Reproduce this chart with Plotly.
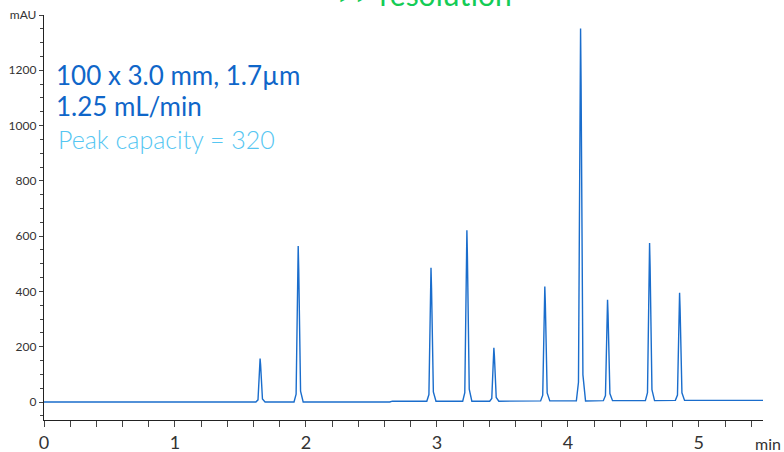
import plotly.graph_objects as go

# Peak table
peak_times = [1.650, 1.941, 2.955, 3.229, 3.435, 3.824, 4.097, 4.303, 4.624, 4.853]
peak_heights = [157, 564, 483, 618, 193, 414, 1347, 365, 570, 389]
peak_base = [0, 0, 3, 3, 3, 4, 4, 5, 5, 6]

# Peak profile (offset in min, fraction of height)
profile_offsets = [-0.032, -0.016, -0.009, -0.004, 0.0, 0.004, 0.009, 0.018, 0.038]
profile_fracs = [0.0, 0.05, 0.42, 0.85, 1.0, 0.85, 0.45, 0.07, 0.0]

# Baseline points between peaks
baseline_t = [0.0, 1.0, 2.64, 2.66, 5.0, 5.49]
baseline_v = [0, 1, 0, 3, 6, 6]

pts = list(zip(baseline_t, baseline_v))
for t, h, b in zip(peak_times, peak_heights, peak_base):
    for o, f in zip(profile_offsets, profile_fracs):
        pts.append((t + o, b + h * f))
pts.sort(key=lambda p: p[0])
xs = [p[0] for p in pts]
ys = [p[1] for p in pts]

y_tickvals = [0, 200, 400, 600, 800, 1000, 1200, 1400]
y_ticktext = ["0", "200", "400", "600", "800", "1000", "1200", "mAU"]
x_tickvals = [0, 1, 2, 3, 4, 5]
x_ticktext = ["0", "1", "2", "3", "4", "5"]

fig = go.Figure()
fig.add_trace(go.Scatter(x=xs, y=ys, mode="lines",
                         line=dict(color="#1a6dcc", width=1.4),
                         hoverinfo="skip", showlegend=False))

FONT = "Lato"
fig.update_layout(
    width=784, height=452,
    margin=dict(l=44, r=21, t=15, b=32, autoexpand=False),
    paper_bgcolor="white", plot_bgcolor="white",
    font=dict(family=FONT, color="#333333"),
    xaxis=dict(range=[0, 5.49], tickvals=x_tickvals, ticktext=x_ticktext,
               showgrid=False, zeroline=False, showline=True,
               linecolor="#222222", linewidth=1.3, automargin=False,
               ticks="outside", ticklen=6, tickcolor="#444444", tickwidth=1.2,
               tickfont=dict(size=18, color="#333333", family=FONT),
               minor=dict(dtick=0.2, tick0=0, ticks="outside", ticklen=6,
                          tickcolor="#444444", tickwidth=1.2)),
    yaxis=dict(range=[-65, 1400], tickvals=y_tickvals, ticktext=y_ticktext,
               showgrid=False, zeroline=False, showline=True,
               linecolor="#222222", linewidth=1.3, automargin=False,
               ticks="outside", ticklen=4, tickcolor="#444444", tickwidth=1.2,
               tickfont=dict(size=12, color="#333333", family=FONT),
               minor=dict(dtick=50, tick0=0, ticks="outside", ticklen=3,
                          tickcolor="#444444", tickwidth=1.2)),
)

fig.add_annotation(x=1.0, y=0, xref="paper", yref="paper", xanchor="left",
                   yanchor="middle", xshift=-10, yshift=-23, text="min", showarrow=False,
                   font=dict(size=16, color="#333333", family=FONT))
fig.add_annotation(x=0.014, y=0.853, xref="paper", yref="paper", xanchor="left",
                   yanchor="middle", text="100 x 3.0 mm, 1.7µm", showarrow=False,
                   font=dict(size=26, color="#0f66c9", family=FONT))
fig.add_annotation(x=0.014, y=0.776, xref="paper", yref="paper", xanchor="left",
                   yanchor="middle", text="1.25 mL/min", showarrow=False,
                   font=dict(size=26, color="#0f66c9", family=FONT))
fig.add_annotation(x=0.017, y=0.694, xref="paper", yref="paper", xanchor="left",
                   yanchor="middle", text="Peak capacity = 320", showarrow=False,
                   font=dict(size=25, color="#55c6f2", family=FONT, weight=300))
fig.add_annotation(x=0.529, y=1.0, xref="paper", yref="paper", xanchor="center",
                   yanchor="middle", yshift=21, text=">> resolution", showarrow=False,
                   font=dict(size=30, color="#14cc55", family=FONT))

fig.write_html("out.html", config={"displayModeBar": False},
               post_script="document.body.style.margin='0';"
                           "document.body.style.overflow='hidden';")
